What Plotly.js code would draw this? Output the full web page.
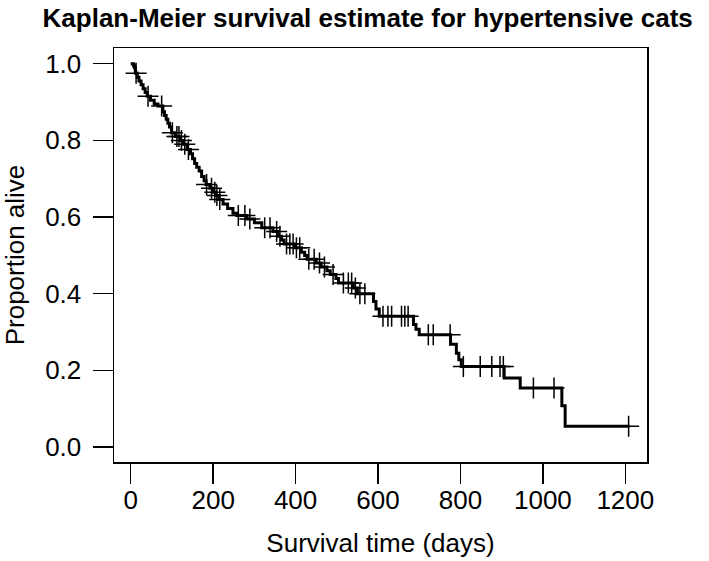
<!DOCTYPE html>
<html>
<head>
<meta charset="utf-8">
<script src="https://cdn.plot.ly/plotly-3.0.1.min.js"></script>
<style>html,body{margin:0;padding:0;background:#fff;}#chart{width:709px;height:561px;}</style>
</head>
<body>
<div id="chart"></div>
<script>
// Kaplan-Meier step curve: event times (days) and survival after each event
var stepTimes = [0, 7, 9, 11, 12, 16, 20, 25, 30, 35, 40, 48, 57, 66, 78, 82, 86, 90, 94, 99,
  108, 120, 128, 137, 145, 150, 155, 160, 166, 172, 178, 183, 192, 200, 206, 214, 224, 235, 248, 258,
  282, 300, 318, 345, 358, 366, 372, 398, 414, 422, 428, 450, 462, 476, 484, 498, 504, 540, 550, 589,
  595, 603, 686, 692, 700, 776, 790, 796, 802, 906, 945, 1046, 1054, 1210];
var stepSurv = [1.0, 0.995, 0.99, 0.98, 0.975, 0.965, 0.955, 0.945, 0.935, 0.925, 0.915, 0.905, 0.895, 0.89, 0.875, 0.865, 0.855, 0.845, 0.835, 0.82,
  0.81, 0.80, 0.79, 0.776, 0.765, 0.752, 0.74, 0.73, 0.72, 0.706, 0.695, 0.685, 0.675, 0.665, 0.656, 0.646, 0.634, 0.622, 0.61, 0.604,
  0.595, 0.585, 0.572, 0.562, 0.55, 0.54, 0.53, 0.52, 0.508, 0.5, 0.49, 0.48, 0.47, 0.46, 0.45, 0.44, 0.428, 0.415, 0.40, 0.38,
  0.36, 0.341, 0.32, 0.307, 0.293, 0.268, 0.245, 0.228, 0.21, 0.18, 0.154, 0.108, 0.054, 0.054];

// Censored observations (days) and the survival level where they are marked
var censorTimes = [13, 42, 75, 101, 112, 117, 123, 131, 140, 184, 196, 204, 209, 216, 261, 277, 289,
  325, 338, 354, 362, 378, 386, 394, 402, 410, 432, 445, 458, 470, 491, 516, 528, 536, 545, 556, 568,
  612, 624, 633, 657, 665, 673, 722, 734, 775, 807, 848, 876, 896, 904, 977, 1027, 1208];
var censorSurv = [0.975, 0.915, 0.89, 0.82, 0.81, 0.81, 0.80, 0.79, 0.776, 0.685, 0.675, 0.665, 0.656, 0.646, 0.604, 0.604, 0.595,
  0.572, 0.572, 0.562, 0.55, 0.53, 0.53, 0.53, 0.52, 0.52, 0.49, 0.49, 0.48, 0.47, 0.45, 0.428, 0.428, 0.428, 0.415, 0.40, 0.40,
  0.341, 0.341, 0.341, 0.341, 0.341, 0.341, 0.293, 0.293, 0.293, 0.21, 0.21, 0.21, 0.21, 0.21, 0.154, 0.154, 0.054];

var xTicks = [0, 200, 400, 600, 800, 1000, 1200];
var yTicks = [0.0, 0.2, 0.4, 0.6, 0.8, 1.0];
var yTickText = ['0.0', '0.2', '0.4', '0.6', '0.8', '1.0'];

var font = 'Liberation Sans, Arial, Helvetica, sans-serif';

var traces = [
  {x: stepTimes, y: stepSurv, type: 'scatter', mode: 'lines',
   line: {shape: 'hv', color: '#000', width: 3}, hoverinfo: 'skip', showlegend: false},
  {x: censorTimes, y: censorSurv, type: 'scatter', mode: 'markers',
   marker: {symbol: 'cross-thin', size: 15, color: '#000', line: {color: '#000', width: 1.5}},
   hoverinfo: 'skip', showlegend: false}
];

var axisCommon = {
  showgrid: false, zeroline: false, showline: true, mirror: true,
  linecolor: '#000', linewidth: 1.5,
  ticks: 'outside', ticklen: 20, tickwidth: 1.5, tickcolor: '#000',
  tickfont: {family: font, size: 26, color: '#000'},
  automargin: false
};

var layout = {
  width: 709, height: 561,
  margin: {l: 114, r: 62, t: 48, b: 99},
  paper_bgcolor: '#fff', plot_bgcolor: '#fff',
  title: {text: 'Kaplan-Meier survival estimate for hypertensive cats',
    font: {family: font, size: 26, color: '#000', weight: 'bold'},
    x: 0.476, xanchor: 'center', xref: 'paper', y: 1 - 18/561, yanchor: 'middle'},
  xaxis: Object.assign({}, axisCommon, {
    range: [-40.6, 1252.6], tickvals: xTicks, ticklabelstandoff: -6,
    title: {text: 'Survival time (days)', font: {family: font, size: 26, color: '#000'}, standoff: 20}
  }),
  yaxis: Object.assign({}, axisCommon, {
    range: [-0.039, 1.041], tickvals: yTicks, ticktext: yTickText, ticklabelstandoff: 6,
    title: {text: 'Proportion alive', font: {family: font, size: 26, color: '#000'}, standoff: 14}
  })
};

Plotly.newPlot('chart', traces, layout, {staticPlot: true, displayModeBar: false});
</script>
</body>
</html>
